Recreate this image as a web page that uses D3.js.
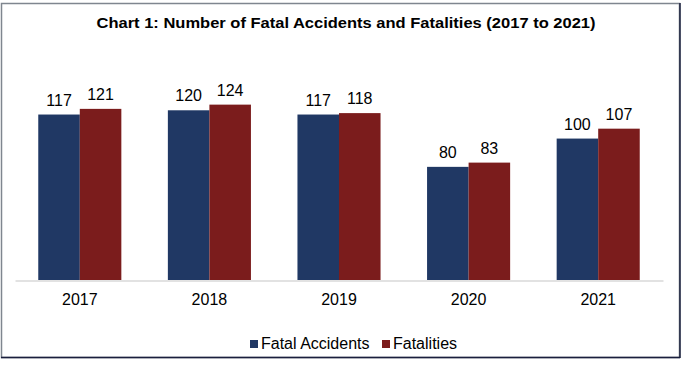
<!DOCTYPE html>
<html><head><meta charset="utf-8">
<script src="https://cdn.jsdelivr.net/npm/d3@7"></script>
<style>body{margin:0;background:#fff}svg{display:block;font-family:"Liberation Sans",Arial,sans-serif}</style>
</head><body>
<svg id="c" width="685" height="365"></svg>
<script>
const categories = ["2017","2018","2019","2020","2021"];
const seriesNames = ["Fatal Accidents","Fatalities"];
const fatalAccidents = [117,120,117,80,100];
const fatalities = [121,124,118,83,107];
const colors = ["#203864","#7b1c1c"];
const yMax = 140;

const svg = d3.select("#c");
// border
svg.append("rect").attr("x",1.5).attr("y",3.5).attr("width",678).attr("height",354)
  .attr("fill","#fff").attr("stroke","#7f868f").attr("stroke-width",1.5);
svg.append("line").attr("x1",1).attr("x2",680).attr("y1",357.5).attr("y2",357.5).attr("stroke","#1a1f3d").attr("stroke-width",1.5);
svg.append("line").attr("x1",680).attr("x2",680).attr("y1",3).attr("y2",358).attr("stroke","#1a1f3d").attr("stroke-width",1.5);

svg.append("text").attr("x",346).attr("y",28).attr("text-anchor","middle")
  .attr("font-size",15).attr("font-weight","bold").attr("fill","#000")
  .attr("textLength",499).attr("lengthAdjust","spacingAndGlyphs")
  .text("Chart 1: Number of Fatal Accidents and Fatalities (2017 to 2021)");

const x0 = d3.scaleBand().domain(categories).range([15,663]).paddingInner(0).paddingOuter(0);
const x1 = d3.scaleBand().domain(seriesNames).range([0,x0.bandwidth()]).paddingInner(0).paddingOuter(0.56);
const y = d3.scaleLinear().domain([0,yMax]).range([280,82]);

const data = categories.map((c,i)=>({cat:c, vals:[fatalAccidents[i],fatalities[i]]}));
const g = svg.append("g");
const grp = g.selectAll("g.grp").data(data).join("g").attr("transform",d=>`translate(${x0(d.cat)},0)`);
grp.selectAll("rect").data(d=>d.vals.map((v,j)=>({v,s:seriesNames[j],j})))
  .join("rect").attr("x",d=>x1(d.s)).attr("width",x1.bandwidth())
  .attr("y",d=>y(d.v)).attr("height",d=>y(0)-y(d.v)).attr("fill",d=>colors[d.j]);
grp.selectAll("text").data(d=>d.vals.map((v,j)=>({v,s:seriesNames[j],j})))
  .join("text").attr("x",d=>x1(d.s)+x1.bandwidth()/2).attr("y",d=>y(d.v)-9)
  .attr("text-anchor","middle").attr("font-size",16).attr("fill","#000").text(d=>d.v);

const ax = svg.append("g").attr("transform","translate(0,280.5)")
  .call(d3.axisBottom(x0).tickSize(0).tickPadding(13));
ax.select(".domain").attr("stroke","#d9d9d9").attr("stroke-width",1.5);
ax.selectAll("text").attr("font-size",16).attr("fill","#000").attr("font-family","Liberation Sans, Arial, sans-serif");

// legend
const legX = [250,382];
const lg = svg.append("g");
seriesNames.forEach((s,i)=>{
  lg.append("rect").attr("x",legX[i]).attr("y",340).attr("width",8).attr("height",8).attr("fill",colors[i]);
  lg.append("text").attr("x",legX[i]+11).attr("y",349).attr("font-size",16).attr("fill","#000").text(s);
});
</script>
</body></html>
